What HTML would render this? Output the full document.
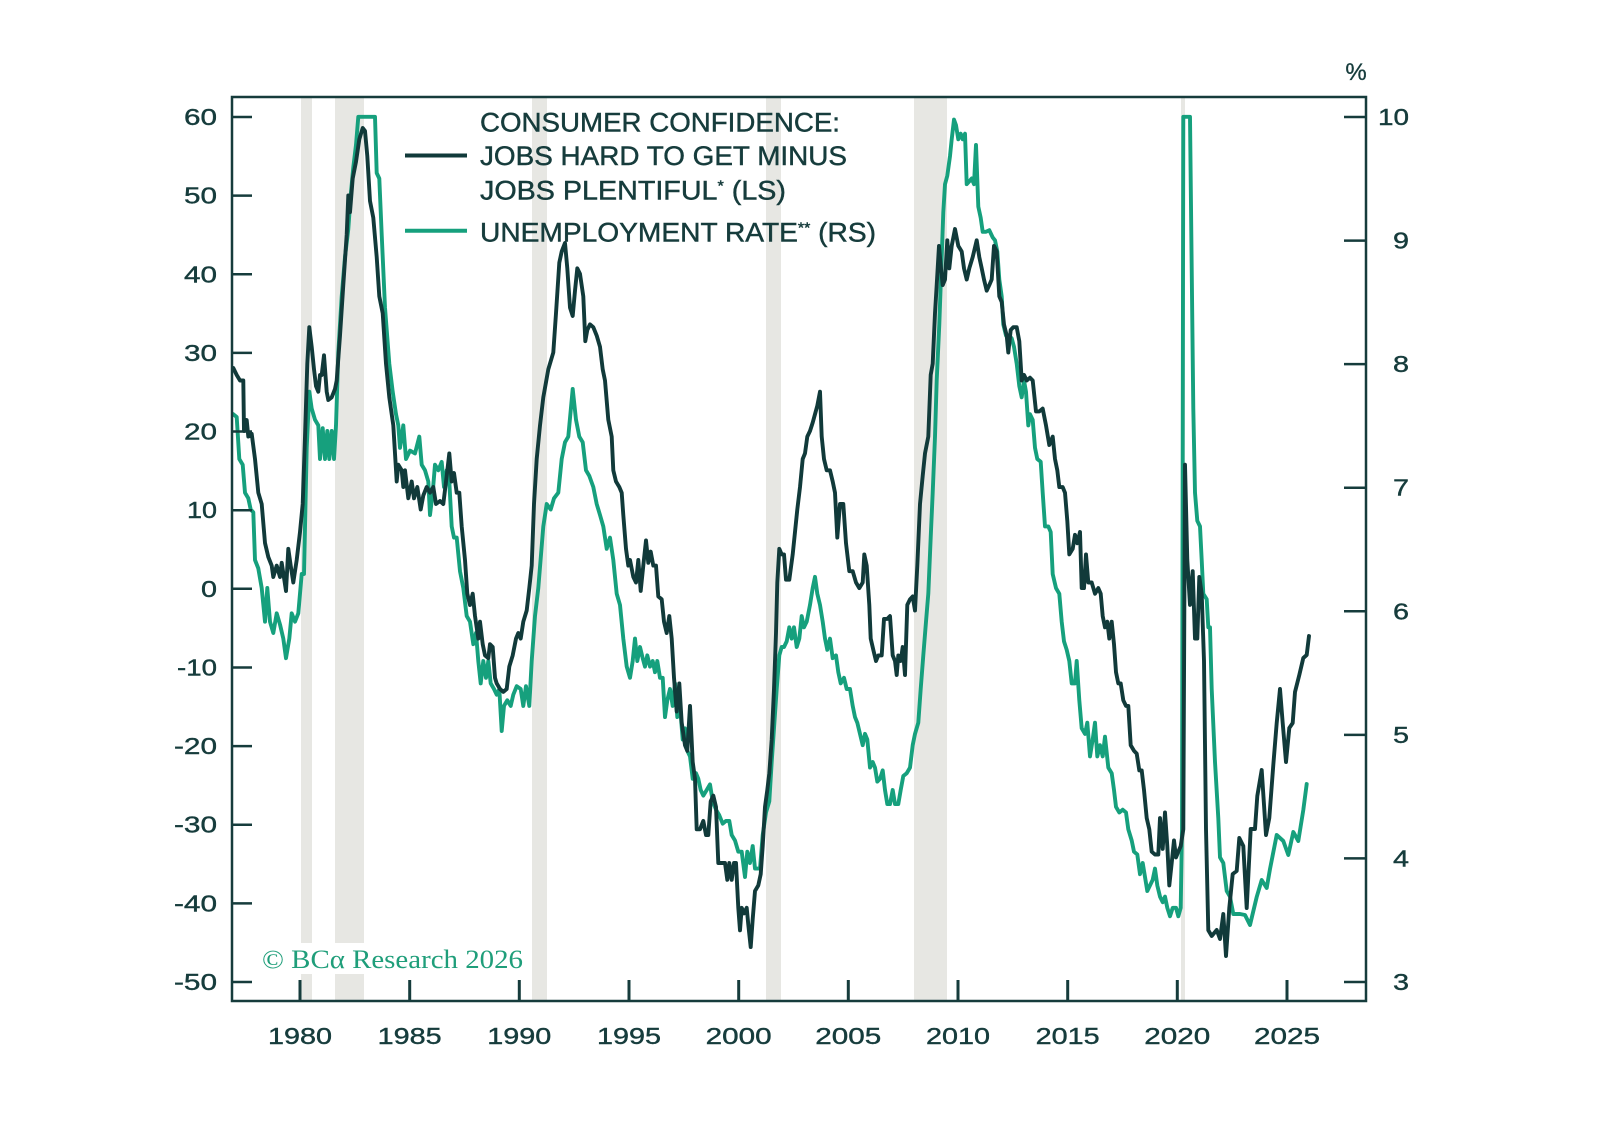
<!DOCTYPE html>
<html>
<head>
<meta charset="utf-8">
<style>
  html, body { margin: 0; padding: 0; background: #ffffff; }
  svg { display: block; }
  .lbl { font-family: "Liberation Sans", "DejaVu Sans", sans-serif; fill: #163c3c; }
  .leg { font-family: "Liberation Sans", "DejaVu Sans", sans-serif; fill: #163c3c; font-size: 26.5px; stroke: #163c3c; stroke-width: 0.45px; }
</style>
</head>
<body>
<svg width="1597" height="1144" viewBox="0 0 1597 1144" xmlns="http://www.w3.org/2000/svg">
  <rect x="0" y="0" width="1597" height="1144" fill="#ffffff"/>

  <!-- recession bands -->
  <g fill="#e7e7e3">
    <rect x="301" y="97" width="11" height="904"/>
    <rect x="335" y="97" width="29" height="904"/>
    <rect x="532" y="97" width="15" height="904"/>
    <rect x="766" y="97" width="15" height="904"/>
    <rect x="914" y="97" width="33" height="904"/>
    <rect x="1181" y="97" width="4" height="904"/>
  </g>

  <!-- copyright white box -->
  <rect x="255" y="943" width="277" height="31" fill="#ffffff"/>
  <text x="262" y="968" font-family="'Liberation Serif', 'DejaVu Serif', serif" font-size="26" fill="#1f9e7a" textLength="261" lengthAdjust="spacingAndGlyphs">© BCα Research 2026</text>

  <!-- Unemployment rate (green) -->
  <polyline fill="none" stroke="#16a07d" stroke-width="3.9" stroke-linejoin="round" stroke-linecap="round" points="
233.3,414.2 236.7,417 239.3,459 242.7,464.7 245,492.7 248.3,498.3 250.7,509.5 253.3,512.3 255,560 258.3,568.4 261.7,588 265,621.7 267.3,588 270,621.7 273.3,633 276.7,613.3 280,624.5 283.3,638.6 286,658.2 289.3,638.6 291.7,613.3 295,621.7 298.3,613.3 301.7,574 304,574 306.7,447.8 309.3,391.7 311.7,408.6 315,419.8 318.3,425.4 320,459 322.7,428.2 325,459 327.3,431 329.3,459 331.7,431 334,459 336,425.4 338.3,352.5 341.7,296.4 345,257 348.3,229 350.7,195.4 353.3,167.3 356,144.9 358.3,116.8 375,116.8 376.7,173 379.3,178.5 381.7,234.6 385,307.6 389.3,363.7 392.7,391.7 396,414.2 398.3,425.4 400,447.8 403.3,425.4 406,459 410,450.6 415,453.4 419.3,436.6 421.7,464.7 425,470.3 428.3,481.5 430,515
432.7,492.7 435,464.7 438.3,470.3 441.7,461.9 444,487 446.7,470.3 449.3,481.5 451.7,526.4 454,537.6 456.7,537.6 460,571.2 463.3,588 466.7,616 470,621.7 473.3,644.2 476,633 478.3,661 480.7,683.4 483.3,661 486,677.8 488.3,661 490.7,683.4 494,689 496.7,694.7 499.3,689 501.7,731 504,705.9 507.3,700.3 510.7,705.9 513.3,694.7 516.7,686.2 520.7,689 523.3,705.9 526,686.2 529.3,705.9 531.7,661 535,616 538.3,588 543.3,526.4 546.7,504 550.7,509.5 554,498.3 558.3,492.7 561.7,459 565,442.2 568.3,436.6 572.7,389 576,419.8 579.3,436.6 582.7,442.2 586,470.3 589.3,475.9 593.3,487 596.7,504 600,515 603.3,526.4 606.7,548.8 610,537.6 613.3,560 616.7,593.7 620,605 623.3,638.6 626.7,666.6 630,677.8
632.7,661 635,638.6 637.3,661 640,647 642.7,658.2 645,666.6 647.3,655.4 650,666.6 652.7,661 655,672.2 657.3,661 660,677.8 662.7,677.8 665,717.1 667.3,700.3 670,689 672.7,705.9 675,683.4 677.3,717.1 680,705.9 682.7,739.5 685,728.3 687.3,750.8 690,756.4 692.7,778.8 696,773.2 698.3,778.8 700.7,790 703.3,795.6 706.7,790 710,784.4 712.7,801.3 716,809.7 719.3,815.3 722.7,823.7 726,820.9 729.3,820.9 731.7,835 735,840.5 738.3,851.7 741.7,851.7 745,877 747.3,851.7 750,863 752.7,846.1 755,868.6 760,868.6 762.7,835 766,812.5 769.3,801.3 771.7,762 774,728.3 776.7,689 779.3,655.4 781.7,647 784,647 786.7,641.4 789.3,627.3 791.7,638.6 794,627.3 796.7,647 799.3,638.6 801.7,616.1 804,627.3 806.7,621.7 810,604.9 812.7,588 815,576.9 817.3,593.7 820,604.9 822.7,621.7 825,638.6 827.3,649.8 830,638.6
832.7,658.2 836,655.4 838.3,672.2 840.7,683.4 844,677.8 846.7,689 850,689 852.7,705.9 855,717.1 857.3,722.7 860,733.9 862.7,745.2 865,733.9 867.3,739.5 870,767.6 872.7,762 875,767.6 877.3,781.6 880,778.8 882.7,770.4 885,790 887.3,804.1 890,804.1 892.7,790 895,804.1 898.3,804.1 900.7,790 903.3,776 906.7,773.2 910,767.6 912.7,745.2 915,733.9 918.3,722.7 920.7,689 923.3,655.4 926,621.7 928.3,593.7 930.7,537.6 932.7,492.7 935,436.6 936.7,380.5 939.3,324.4 941.7,257.1 943.3,212.2 945,184.2 947.3,175.7 950,156.1 951.7,139.3 954,119.6 956,125.2 958.3,139.3 960.7,133.7 962.7,139.3 965,133.7 966.7,184.2 969.3,181.3 971.7,178.5 974,184.2 976,144.9 978.3,206.6 980.7,217.8 982.7,231.8 986,231.8 989.3,230.2 992.7,237.4 995,240.3 997.3,251.5 999.3,279.5 1001.7,296.4 1003.3,324.4 1006,335.6 1009.3,335.6 1011.7,338.4 1014,346.8 1016.7,363.7 1019.3,386.1 1021.7,397.3 1024,380.5 1026,391.7 1028.3,425.4 1030,414.2
1032.7,419.8 1035,447.8 1037.3,459 1040.7,461.8 1042.7,492.7 1045,526.4 1048.3,526.4 1050.7,532 1052.7,574.1 1056,588.1 1059.3,593.7 1061.7,621.7 1064,641.4 1066.7,649.8 1069.3,661 1071.7,683.4 1075,683.4 1076.7,661 1079.3,700.3 1081.7,728.3 1085,733.9 1087.3,722.7 1090,756.4 1092.7,739.5 1095,722.7 1097.3,756.4 1100,745.2 1102.7,756.4 1105,736.7 1108.3,767.6 1111.7,773.2 1114,790 1116,806.9 1119.3,812.5 1122.7,809.7 1126,812.5 1128.3,829.3 1131.7,840.5 1134,851.7 1137.3,854.5 1140,874.2 1142.7,863 1145,877 1147.3,891 1150,885.4 1152.7,879.8 1155,868.6 1157.3,885.4 1160,896.6 1162.7,902.2 1165,896.6 1167.3,907.8 1170,916.3 1172.7,907.8 1176,907.8 1178.3,916.3 1180.7,907.8 1182,829.3 1183.3,116.8 1190,116.8 1191.7,268.3 1193.3,408.6 1195,492.7 1197.3,520.8 1200,526.4 1201.7,560 1203.3,593.7 1206.7,599.3 1208.3,627.3 1210,627.3 1211.7,689 1215,762 1218.3,818.1 1220,857.4 1223.3,863 1226.7,891 1230,896.6
1233.3,914 1240,914 1245,915 1250,925 1256.7,897 1261.7,880 1266.7,888 1270,869 1276.7,835 1283.3,841 1288.3,855 1293.3,832 1298.3,841 1303.3,810 1306.7,784"/>

  <!-- Jobs hard to get minus jobs plentiful (dark) -->
  <polyline fill="none" stroke="#113a3a" stroke-width="3.9" stroke-linejoin="round" stroke-linecap="round" points="
233.3,368 236.7,375 240,380.5 243.3,380.5 244,431 246.7,420 248.3,436.6 251.7,433.8 255,459 258.3,492.7 261.7,504 265,543 268.3,557 271.7,565.6 273.3,577 276.7,565.6 280,577 281.7,562.8 284.3,579.7 286,591 288.3,548.8 290.7,565.6 293.3,582.5 296.7,560 300,532 302.7,504 305,436.6 307.3,363.7 309.3,327.2 311.7,346.8 314,369.3 316,386.1 318.3,391.7 320,375 321.7,375 324,355.3 326.7,391.7 328.3,400 331.7,397.3 335,389 336.7,380.5 340,335.6 343.3,285 346.7,234.6 348.3,195.4 350,212.2 352.7,178.5 356,161.7 359.3,139.3 362.7,128 365,130.9 367.3,156 370,201 373.3,217.8 376.7,257 379.3,296.4 382.7,313.2 386,363.7 389.3,397.3 393.3,425.4 396.7,481.5 398.3,464.7 401.7,470.3 403.3,487 405,470.3 408.3,498.3 411.7,481.5 414,498.3 417.3,487 420.7,509.5 423.3,495.5 426.7,487 430,492.7
433.3,487 436,504 440,501 443.3,504 446.7,475.9 449.3,453.4 451.7,481.5 454,473 456.7,492.7 459.3,492.7 461.7,526.4 465,560 467.3,593.7 470,605 472.7,593.7 475,616 478.3,638.6 480,621.7 482.7,644.2 485,655.4 488.3,658.2 490,644.2 492.7,647 495,677.8 496.7,683.4 500,689 503.3,691.9 506.7,689 509.3,666.6 512.7,655.4 516,638.6 518.3,633 520.7,638.6 523.3,621.7 526.7,610.5 529.3,588 531.7,565.6 534,504 536.7,459 540,425.4 543.3,397.3 548.3,369.3 553.3,352.5 556,313.2 559.3,262.7 561.7,251.5 565,243 567.3,268.3 570,307.6 572.7,316 575,290.7 577.3,268.3 580,273.9 583.3,296.4 585.3,341.2 587.3,330 590,324.4 593.3,327.2 596.7,335.6 600,346.8 602.7,369.3 605,380.5 608.3,419.8 611.7,436.6 613.3,470.3 616,481.5 619.3,487 621.7,492.7 623.3,515 626,548.8 628.3,565.6
630,560 633.3,576.9 636,582.5 638.3,560 640.7,590.9 643.3,565.6 646,540.4 648.3,562.8 650.7,551.6 653.3,565.6 656,565.6 658.3,596.5 661.7,599.3 664,621.7 666.7,633 669.3,616.1 671.7,638.6 674,677.8 676.7,711.5 679.3,683.4 681.7,722.7 685,745.2 687.3,750.8 690,705.9 692.7,762 695,778.8 696.7,829.3 700,829.3 703.3,820.9 706,835 708.3,835 710.7,801.3 713.3,795.6 716,806.9 718.3,863 721.7,863 725,863 727.3,879.8 729.3,863 731.7,879.8 734,863 736,863 738.3,907.8 740,930.3 741.7,907.8 744,913.4 746.7,907.8 748.3,924.7 750.7,947.1 752.7,919.1 755,891 758.3,885.4 760.7,874.2 762.7,846.1 765,806.9 767.3,790 769.3,773.2 771.7,739.5 774,689 776,633 777.3,582.5 779.3,548.8 781.7,554.4 784,554.4 786,579.7 789.3,579.7 792.7,554.4 795,532 797.3,509.5 800,487.1 802.7,459 805,453.4 807.3,436.6 810,431 812.7,422.6 815,414.2 817.3,405.7 820,391.7 821.7,436.6 824,459 826.7,470.3
830,470.3 832.7,481.5 835,492.7 837.3,537.6 840,504 843.3,504 846,543.2 849.3,571.2 852.7,571.2 856,582.5 859.3,588.1 862.7,582.5 864.3,554.4 866.7,565.6 869.3,604.9 870.7,638.6 873.3,649.8 876,661 878.3,655.4 881.7,655.4 884,618.9 887.3,618.9 890,616.1 892.7,655.4 895,661 896.7,675 898.3,655.4 900.7,661 902.7,647 905,675 907.3,604.9 910,599.3 912.7,596.5 915,610.5 917.3,565.6 920,504 922.7,475.9 925,453.4 928.3,436.6 930.7,374.9 932.7,363.7 935,313.2 936.7,285.1 939,245.9 941,268.3 942.7,285.1 945,279.5 947.3,240.3 949.3,268.3 951.7,245.9 955,229 958.3,245.9 961.7,251.5 964,268.3 966.7,279.5 969.3,268.3 972.7,257.1 976.7,240.3 979.3,257.1 981.7,268.3 984,279.5 986.7,290.7 989.3,285.1 991.7,279.5 994,245.9 996.7,251.5 999.3,296.4 1001.7,302 1004,324.4 1006.7,335.6 1008.3,352.5 1010.7,330 1013.3,327.2 1016.7,327.2 1019.3,341.2 1021.7,380.5 1024,374.9 1026.7,380.5 1030,377.7
1032.7,380.5 1036,411.4 1039.3,411.4 1042.7,408.6 1046,425.4 1049.3,445 1052.7,436.6 1055,459 1057.3,470.3 1059.3,487.1 1062.7,487.1 1065,492.7 1067.3,520.8 1069.3,554.4 1072.7,548.8 1075,534.8 1077.3,543.2 1080,532 1081.7,588.1 1084,588.1 1086,554.4 1088.3,582.5 1091.7,582.5 1095,593.7 1098.3,588.1 1100.7,593.7 1102.7,616.1 1105,627.3 1107.3,621.7 1109.3,638.6 1111.7,621.7 1114,644.2 1116,672.2 1118.3,683.4 1120.7,683.4 1123.3,700.3 1126,705.9 1128.3,705.9 1130.7,745.2 1134,750.8 1136.7,753.6 1139.3,770.4 1141.7,770.4 1144,790 1146.7,818.1 1149.3,829.3 1151.7,851.7 1155,854.5 1158.3,854.5 1160,818.1 1162.7,848.9 1165,812.5 1167.3,846.1 1169.3,885.4 1171.7,863 1174,840.5 1176,857.4 1178.3,851.7 1180.7,846.1 1183.3,829.3 1185,464.7 1187.3,560 1190,604.9 1192.7,571.2 1195,638.6 1197.3,638.6 1199.3,576.9 1201.7,593.7 1204,661 1206,829.3 1208.3,930.3 1211.7,936 1216.7,930 1220,939 1223.3,914 1226,956 1229.3,908 1232.7,874 1236.7,871 1239.3,838 1243.3,846 1246.7,908 1250.7,829 1255,829 1257.3,796 1261.7,770 1266,835 1269.3,818 1273.3,765 1276.7,723 1280,689 1282.7,723 1286,762 1289.3,728 1292.7,723 1295,692 1299.3,675 1303.3,658 1306.7,655 1309,636"/>

  <!-- frame -->
  <rect x="232" y="97" width="1134" height="904" fill="none" stroke="#163c3c" stroke-width="2.5"/>

  <!-- left ticks -->
  <g stroke="#163c3c" stroke-width="2.5">
    <line x1="232" y1="117" x2="252" y2="117"/>
    <line x1="232" y1="195.6" x2="252" y2="195.6"/>
    <line x1="232" y1="274.3" x2="252" y2="274.3"/>
    <line x1="232" y1="352.9" x2="252" y2="352.9"/>
    <line x1="232" y1="431.5" x2="252" y2="431.5"/>
    <line x1="232" y1="510.2" x2="252" y2="510.2"/>
    <line x1="232" y1="588.8" x2="252" y2="588.8"/>
    <line x1="232" y1="667.5" x2="252" y2="667.5"/>
    <line x1="232" y1="746.1" x2="252" y2="746.1"/>
    <line x1="232" y1="824.7" x2="252" y2="824.7"/>
    <line x1="232" y1="903.4" x2="252" y2="903.4"/>
    <line x1="232" y1="982" x2="252" y2="982"/>
    <!-- right ticks -->
    <line x1="1344" y1="117" x2="1366" y2="117"/>
    <line x1="1344" y1="240.6" x2="1366" y2="240.6"/>
    <line x1="1344" y1="364.1" x2="1366" y2="364.1"/>
    <line x1="1344" y1="487.7" x2="1366" y2="487.7"/>
    <line x1="1344" y1="611.3" x2="1366" y2="611.3"/>
    <line x1="1344" y1="734.9" x2="1366" y2="734.9"/>
    <line x1="1344" y1="858.4" x2="1366" y2="858.4"/>
    <line x1="1344" y1="982" x2="1366" y2="982"/>
  </g>
  <!-- bottom ticks -->
  <g stroke="#163c3c" stroke-width="3">
    <line x1="300" y1="980" x2="300" y2="1001"/>
    <line x1="409.7" y1="980" x2="409.7" y2="1001"/>
    <line x1="519.3" y1="980" x2="519.3" y2="1001"/>
    <line x1="629" y1="980" x2="629" y2="1001"/>
    <line x1="738.7" y1="980" x2="738.7" y2="1001"/>
    <line x1="848.3" y1="980" x2="848.3" y2="1001"/>
    <line x1="958" y1="980" x2="958" y2="1001"/>
    <line x1="1067.7" y1="980" x2="1067.7" y2="1001"/>
    <line x1="1177.3" y1="980" x2="1177.3" y2="1001"/>
    <line x1="1287" y1="980" x2="1287" y2="1001"/>
  </g>

  <!-- left labels -->
  <g class="lbl" font-size="23" text-anchor="end" stroke="#163c3c" stroke-width="0.4">
    <text x="217" y="125" textLength="33" lengthAdjust="spacingAndGlyphs">60</text>
    <text x="217" y="203.6" textLength="33" lengthAdjust="spacingAndGlyphs">50</text>
    <text x="217" y="282.3" textLength="33" lengthAdjust="spacingAndGlyphs">40</text>
    <text x="217" y="360.9" textLength="33" lengthAdjust="spacingAndGlyphs">30</text>
    <text x="217" y="439.5" textLength="33" lengthAdjust="spacingAndGlyphs">20</text>
    <text x="217" y="518.2" textLength="30" lengthAdjust="spacingAndGlyphs">10</text>
    <text x="217" y="596.8" textLength="16" lengthAdjust="spacingAndGlyphs">0</text>
    <text x="217" y="675.5" textLength="40" lengthAdjust="spacingAndGlyphs">-10</text>
    <text x="217" y="754.1" textLength="43" lengthAdjust="spacingAndGlyphs">-20</text>
    <text x="217" y="832.7" textLength="43" lengthAdjust="spacingAndGlyphs">-30</text>
    <text x="217" y="911.4" textLength="43" lengthAdjust="spacingAndGlyphs">-40</text>
    <text x="217" y="990" textLength="43" lengthAdjust="spacingAndGlyphs">-50</text>
  </g>

  <!-- right labels -->
  <g class="lbl" font-size="23" text-anchor="end" stroke="#163c3c" stroke-width="0.4">
    <text x="1409" y="125" textLength="31" lengthAdjust="spacingAndGlyphs">10</text>
    <text x="1409" y="248.6" textLength="16" lengthAdjust="spacingAndGlyphs">9</text>
    <text x="1409" y="372.1" textLength="16" lengthAdjust="spacingAndGlyphs">8</text>
    <text x="1409" y="495.7" textLength="16" lengthAdjust="spacingAndGlyphs">7</text>
    <text x="1409" y="619.3" textLength="16" lengthAdjust="spacingAndGlyphs">6</text>
    <text x="1409" y="742.9" textLength="16" lengthAdjust="spacingAndGlyphs">5</text>
    <text x="1409" y="866.4" textLength="16" lengthAdjust="spacingAndGlyphs">4</text>
    <text x="1409" y="990" textLength="16" lengthAdjust="spacingAndGlyphs">3</text>
  </g>
  <text class="lbl" x="1356" y="80" font-size="24" text-anchor="middle" stroke="#163c3c" stroke-width="0.3">%</text>

  <!-- bottom labels -->
  <g class="lbl" font-size="23" text-anchor="middle" stroke="#163c3c" stroke-width="0.4">
    <text x="300" y="1044" textLength="64" lengthAdjust="spacingAndGlyphs">1980</text>
    <text x="409.7" y="1044" textLength="64" lengthAdjust="spacingAndGlyphs">1985</text>
    <text x="519.3" y="1044" textLength="64" lengthAdjust="spacingAndGlyphs">1990</text>
    <text x="629" y="1044" textLength="64" lengthAdjust="spacingAndGlyphs">1995</text>
    <text x="738.7" y="1044" textLength="66" lengthAdjust="spacingAndGlyphs">2000</text>
    <text x="848.3" y="1044" textLength="66" lengthAdjust="spacingAndGlyphs">2005</text>
    <text x="958" y="1044" textLength="64" lengthAdjust="spacingAndGlyphs">2010</text>
    <text x="1067.7" y="1044" textLength="64" lengthAdjust="spacingAndGlyphs">2015</text>
    <text x="1177.3" y="1044" textLength="66" lengthAdjust="spacingAndGlyphs">2020</text>
    <text x="1287" y="1044" textLength="66" lengthAdjust="spacingAndGlyphs">2025</text>
  </g>

  <!-- legend -->
  <line x1="405" y1="155.5" x2="467" y2="155.5" stroke="#113a3a" stroke-width="4"/>
  <line x1="405" y1="230.7" x2="467" y2="230.7" stroke="#16a07d" stroke-width="4"/>
  <text class="leg" x="480" y="131.7" textLength="360" lengthAdjust="spacingAndGlyphs">CONSUMER CONFIDENCE:</text>
  <text class="leg" x="480" y="165" textLength="367" lengthAdjust="spacingAndGlyphs">JOBS HARD TO GET MINUS</text>
  <text class="leg" x="480" y="199.3" textLength="306" lengthAdjust="spacingAndGlyphs">JOBS PLENTIFUL<tspan font-size="15" dy="-9">*</tspan><tspan dy="9">  (LS)</tspan></text>
  <text class="leg" x="480" y="241.7" textLength="396" lengthAdjust="spacingAndGlyphs">UNEMPLOYMENT RATE<tspan font-size="15" dy="-9">**</tspan><tspan dy="9"> (RS)</tspan></text>
</svg>
</body>
</html>
